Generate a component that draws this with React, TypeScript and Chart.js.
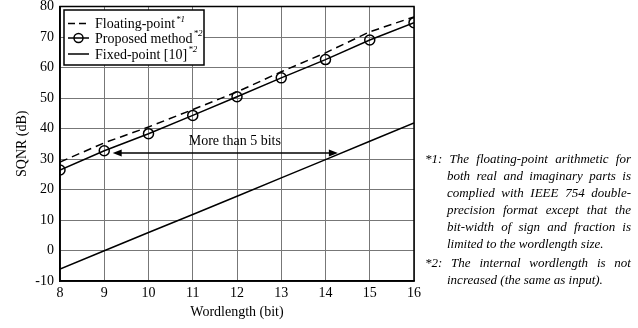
import React, { useEffect, useRef } from "react";
import { Chart, registerables } from "chart.js";

Chart.register(...registerables);

const wordlengths = [8, 9, 10, 11, 12, 13, 14, 15, 16];
const floatingPoint = [29, 35.3, 40.5, 46.2, 52, 58.6, 64.8, 71.7, 76.6];
const proposedMethod = [26.4, 32.7, 38.3, 44.3, 50.4, 56.6, 62.6, 69, 74.7];
const fixedPoint = [-6.1, -0.1, 5.9, 11.8, 17.8, 23.8, 29.8, 35.8, 41.8];

const seriesNames = ["Floating-point", "Proposed method", "Fixed-point [10]"];
const seriesNotes = ["*1", "*2", "*2"];

const yMin = -10;
const yMax = 80;
const yStep = 10;
const xMin = 8;
const xMax = 16;

const arrowFromX = 9.19;
const arrowToX = 14.28;
const arrowY = 32;
const arrowLabel = "More than 5 bits";
const arrowLabelX = 11.95;
const arrowLabelY = 35.9;

const xTitle = "Wordlength (bit)";
const yTitle = "SQNR (dB)";

const footnotes = [
  {
    marker: "*1:",
    lines: [
      "The floating-point arithmetic for",
      "both real and imaginary parts  is",
      "complied with IEEE 754 double-",
      "precision format  except that  the",
      "bit-width of  sign and fraction  is",
      "limited to the wordlength size.",
    ],
  },
  {
    marker: "*2:",
    lines: ["The internal wordlength is not", "increased (the same as input)."],
  },
];

const SERIF = '"Liberation Serif", "Times New Roman", serif';

const overlayPlugin = {
  id: "overlay",
  afterDatasetsDraw(chart: any) {
    const { ctx, chartArea: a, scales } = chart;
    const x = scales.x;
    const y = scales.y;
    ctx.save();
    // frame
    ctx.strokeStyle = "#000";
    ctx.lineWidth = 1.5;
    ctx.strokeRect(a.left, a.top, a.right - a.left, a.bottom - a.top);

    // arrow
    const x1 = x.getPixelForValue(arrowFromX);
    const x2 = x.getPixelForValue(arrowToX);
    const yy = y.getPixelForValue(arrowY);
    const head = 9;
    const hw = 3.5;
    ctx.lineWidth = 1.5;
    ctx.beginPath();
    ctx.moveTo(x1 + head - 1, yy);
    ctx.lineTo(x2 - head + 1, yy);
    ctx.stroke();
    ctx.fillStyle = "#000";
    ctx.beginPath();
    ctx.moveTo(x1, yy);
    ctx.lineTo(x1 + head, yy - hw);
    ctx.lineTo(x1 + head, yy + hw);
    ctx.closePath();
    ctx.fill();
    ctx.beginPath();
    ctx.moveTo(x2, yy);
    ctx.lineTo(x2 - head, yy - hw);
    ctx.lineTo(x2 - head, yy + hw);
    ctx.closePath();
    ctx.fill();

    ctx.font = `14px ${SERIF}`;
    ctx.textAlign = "center";
    ctx.textBaseline = "middle";
    ctx.fillText(arrowLabel, x.getPixelForValue(arrowLabelX), y.getPixelForValue(arrowLabelY));

    // legend
    const bx = a.left + 4;
    const by = a.top + 3.5;
    const bw = 140;
    const bh = 55;
    ctx.fillStyle = "#fff";
    ctx.fillRect(bx, by, bw, bh);
    ctx.strokeStyle = "#000";
    ctx.lineWidth = 1.5;
    ctx.strokeRect(bx, by, bw, bh);
    const rows = [by + 13.5, by + 28, by + 44];
    rows.forEach((ry, i) => {
      ctx.strokeStyle = "#000";
      ctx.lineWidth = 1.5;
      ctx.beginPath();
      if (i === 0) ctx.setLineDash([7, 4]);
      else ctx.setLineDash([]);
      ctx.moveTo(bx + 4, ry);
      ctx.lineTo(bx + 25, ry);
      ctx.stroke();
      ctx.setLineDash([]);
      if (i === 1) {
        ctx.beginPath();
        ctx.arc(bx + 14.5, ry, 4.5, 0, Math.PI * 2);
        ctx.stroke();
      }
      ctx.fillStyle = "#000";
      ctx.font = `14px ${SERIF}`;
      ctx.textAlign = "left";
      ctx.textBaseline = "middle";
      const tx = bx + 31;
      ctx.fillText(seriesNames[i], tx, ry + 1);
      const w = ctx.measureText(seriesNames[i]).width;
      ctx.font = `italic 9px ${SERIF}`;
      ctx.fillText(seriesNotes[i], tx + w + 1, ry - 4);
    });
    ctx.restore();
  },
};

export default function App() {
  const ref = useRef<HTMLCanvasElement | null>(null);

  useEffect(() => {
    if (!ref.current) return;
    const mk = (vals: number[]) => wordlengths.map((w, i) => ({ x: w, y: vals[i] }));
    const chart = new Chart(ref.current, {
      type: "line",
      data: {
        datasets: [
          {
            label: seriesNames[0],
            data: mk(floatingPoint),
            borderColor: "#000",
            borderWidth: 1.5,
            borderDash: [8, 5],
            pointRadius: 0,
            fill: false,
            tension: 0,
          },
          {
            label: seriesNames[1],
            data: mk(proposedMethod),
            borderColor: "#000",
            borderWidth: 1.5,
            pointRadius: 5,
            pointBorderWidth: 1.5,
            pointBackgroundColor: "rgba(0,0,0,0)",
            pointBorderColor: "#000",
            fill: false,
            tension: 0,
          },
          {
            label: seriesNames[2],
            data: mk(fixedPoint),
            borderColor: "#000",
            borderWidth: 1.5,
            pointRadius: 0,
            fill: false,
            tension: 0,
          },
        ],
      },
      options: {
        responsive: false,
        animation: false,
        layout: { padding: { left: 0, right: 224, top: 3, bottom: 0 } },
        plugins: { legend: { display: false }, tooltip: { enabled: false } },
        scales: {
          x: {
            type: "linear",
            min: xMin,
            max: xMax,
            afterFit: (s: any) => {
              s.height = 47;
              s.paddingLeft = 0;
              s.paddingRight = 0;
            },
            ticks: {
              stepSize: 1,
              color: "#000",
              padding: 4,
              font: { family: SERIF, size: 14 },
              maxRotation: 0,
            },
            grid: { color: "#777", lineWidth: 1, drawTicks: false },
            border: { color: "#000", width: 1.5 },
            title: {
              display: true,
              text: xTitle,
              color: "#000",
              font: { family: SERIF, size: 14 },
              padding: { top: 0, bottom: 7.6 },
            },
          },
          y: {
            type: "linear",
            min: yMin,
            max: yMax,
            afterFit: (s: any) => {
              s.width = 60;
              s.paddingTop = 0;
              s.paddingBottom = 0;
            },
            ticks: {
              stepSize: yStep,
              color: "#000",
              padding: 6,
              font: { family: SERIF, size: 14 },
            },
            grid: { color: "#777", lineWidth: 1, drawTicks: false },
            border: { color: "#000", width: 1.5 },
            title: {
              display: true,
              text: yTitle,
              color: "#000",
              font: { family: SERIF, size: 14 },
              padding: { top: 13.6, bottom: 0 },
            },
          },
        },
      },
      plugins: [overlayPlugin],
    });
    return () => chart.destroy();
  }, []);

  return (
    <div style={{ position: "fixed", left: 0, top: 0, width: 638, height: 328, background: "#fff" }}>
      <canvas ref={ref} width={638} height={328} style={{ display: "block" }} />
      <div
        style={{
          position: "absolute",
          left: 425,
          top: 149.5,
          width: 206,
          fontFamily: SERIF,
          fontStyle: "italic",
          fontSize: 13,
          lineHeight: "17px",
          color: "#000",
          whiteSpace: "pre",
        }}
      >
        {footnotes.map((fn, fi) => (
          <div key={fi} style={{ marginTop: fi === 0 ? 0 : 2 }}>
            {fn.lines.map((ln, li) => {
              const last = li === fn.lines.length - 1;
              return (
                <div
                  key={li}
                  style={{
                    marginLeft: li === 0 ? 0 : 22,
                    textAlign: "justify",
                    textAlignLast: last ? "left" : "justify",
                    whiteSpace: "normal",
                  }}
                >
                  {li === 0 ? fn.marker + " " + ln : ln}
                </div>
              );
            })}
          </div>
        ))}
      </div>
    </div>
  );
}
